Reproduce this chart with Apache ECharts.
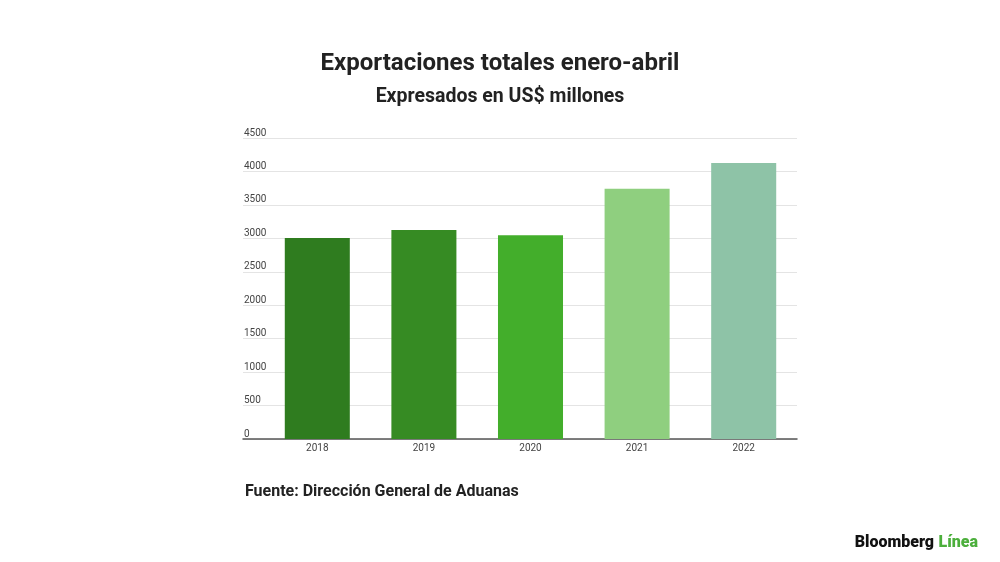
<!DOCTYPE html>
<html>
<head>
<meta charset="utf-8">
<script src="https://cdn.jsdelivr.net/npm/echarts@6/dist/echarts.min.js"></script>
<style>
  html, body { margin: 0; padding: 0; background: #fff; }
  #chart { width: 1000px; height: 562px; }
</style>
</head>
<body>
<div id="chart"></div>
<script>
// datos: exportaciones enero-abril (US$ millones)
var years = ['2018', '2019', '2020', '2021', '2022'];
var exportValues = [3005, 3125, 3045, 3740, 4125];
var barColors = ['#2f7c1f', '#368b23', '#43ae2b', '#8fcf7f', '#8ec3a7'];
var yTicks = [0, 500, 1000, 1500, 2000, 2500, 3000, 3500, 4000, 4500];

var myChart = echarts.init(document.getElementById('chart'));

var option = {
    backgroundColor: '#fff',
    textStyle: { fontFamily: 'Roboto' },
    title: [
        {
            text: 'Exportaciones totales enero-abril',
            left: 'center', top: 52, padding: 0,
            textStyle: { fontSize: 24, fontWeight: 'bold', color: '#222' }
        },
        {
            text: 'Expresados en US$ millones',
            left: 'center', top: 87, padding: 0,
            textStyle: { fontSize: 19.5, fontWeight: 'bold', color: '#222' }
        },
        {
            text: 'Fuente: Dirección General de Aduanas',
            left: 245, top: 484, padding: 0,
            textStyle: { fontSize: 16, fontWeight: 'bold', color: '#222' }
        },
        {
            text: '{a|Bloomberg} {b|Línea}',
            right: 22, top: 534, padding: 0,
            textStyle: {
                rich: {
                    a: { fontSize: 16, fontWeight: 900, color: '#111', fontFamily: 'Roboto' },
                    b: { fontSize: 16, fontWeight: 900, color: '#4caf3c', fontFamily: 'Roboto' }
                }
            }
        }
    ],
    grid: [
        // rejilla de fondo con etiquetas del eje y
        { left: 243, right: 203, top: 138, bottom: 123 },
        // rejilla de las barras
        { left: 264, right: 203, top: 138, bottom: 123 }
    ],
    xAxis: [
        {
            gridIndex: 0, type: 'value', min: 0, max: 1,
            axisLine: { show: true, onZero: false, lineStyle: { color: '#555', width: 1.5 } },
            axisTick: { show: false }, axisLabel: { show: false }, splitLine: { show: false }
        },
        {
            gridIndex: 1, type: 'category', data: years,
            axisLine: { show: false }, axisTick: { show: false },
            axisLabel: { color: '#444', fontSize: 10, margin: 4 }
        }
    ],
    yAxis: [
        {
            gridIndex: 0, type: 'value', min: 0, max: 4500, interval: 500,
            axisLine: { show: false }, axisTick: { show: false },
            axisLabel: {
                inside: true, align: 'left', verticalAlign: 'bottom',
                margin: 1, color: '#444', fontSize: 10, padding: 0,
                formatter: function (v) { return yTicks.indexOf(v) >= 0 ? String(v) : ''; }
            },
            splitLine: { lineStyle: { color: '#e4e4e4', width: 1 } }
        },
        {
            gridIndex: 1, type: 'value', min: 0, max: 4500, interval: 500,
            show: false
        }
    ],
    series: [
        {
            type: 'bar',
            xAxisIndex: 1, yAxisIndex: 1,
            barCategoryGap: '39%',
            data: exportValues.map(function (v, i) {
                return { value: v, itemStyle: { color: barColors[i] } };
            }),
            z: 1
        }
    ]
};

myChart.setOption(option);
</script>
</body>
</html>
